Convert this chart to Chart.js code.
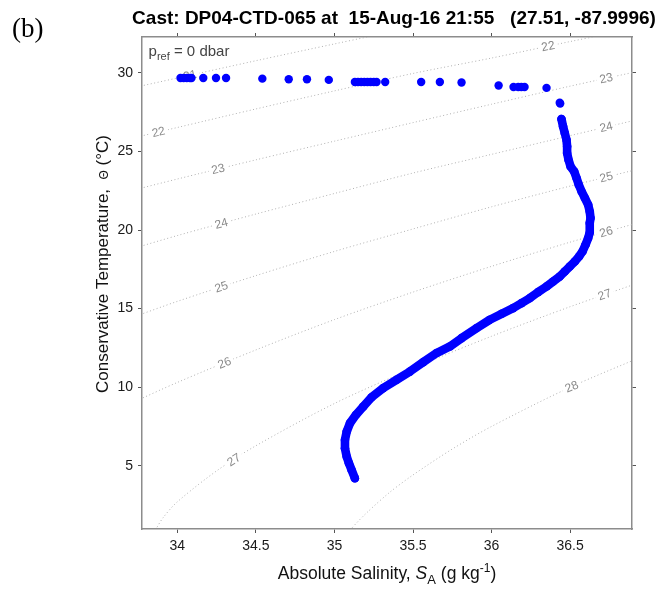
<!DOCTYPE html>
<html>
<head>
<meta charset="utf-8">
<script src="https://cdn.jsdelivr.net/npm/chart.js@4.4.1/dist/chart.umd.min.js"></script>
<style>
  html, body { margin: 0; padding: 0; background: #fff; }
</style>
</head>
<body>
<canvas id="tsChart" width="663" height="589"></canvas>
<script>
// Cast DP04-CTD-065: mixed layer samples (Absolute Salinity g/kg, Conservative Temperature degC)
const surfaceSA = [34.02, 34.04, 34.06, 34.08, 34.09, 34.165, 34.246, 34.31, 34.541, 34.709, 34.825, 34.964,
  35.13, 35.15, 35.17, 35.19, 35.21, 35.23, 35.25, 35.268, 35.323, 35.552, 35.671, 35.809,
  36.045, 36.14, 36.17, 36.19, 36.21, 36.35, 36.434, 36.437];
const surfaceCT = [29.68, 29.68, 29.68, 29.68, 29.68, 29.68, 29.68, 29.68, 29.64, 29.6, 29.6, 29.56,
  29.43, 29.43, 29.43, 29.43, 29.43, 29.43, 29.43, 29.43, 29.43, 29.43, 29.43, 29.39,
  29.2, 29.11, 29.11, 29.11, 29.11, 29.05, 28.1, 28.05];

// below the mixed layer the samples are packed tightly
const profileSA = [36.445, 36.455, 36.466, 36.477, 36.481, 36.481, 36.49, 36.503, 36.526, 36.541, 36.555, 36.573,
  36.594, 36.615, 36.625, 36.63, 36.625, 36.625, 36.615, 36.598, 36.579, 36.557, 36.53, 36.498,
  36.466, 36.434, 36.392, 36.35, 36.296, 36.244, 36.191, 36.137, 36.064, 35.989, 35.905, 35.809,
  35.735, 35.65, 35.565, 35.48, 35.396, 35.31, 35.237, 35.183, 35.137, 35.099, 35.078, 35.067,
  35.067, 35.078, 35.092, 35.109, 35.13];
const profileCT = [27.07, 26.6, 26.18, 25.75, 25.32, 24.9, 24.48, 24.05, 23.73, 23.31, 22.89, 22.46,
  22.04, 21.61, 21.18, 20.76, 20.45, 19.85, 19.49, 19.06, 18.64, 18.32, 18.0, 17.68,
  17.36, 17.04, 16.73, 16.41, 16.05, 15.67, 15.35, 15.03, 14.67, 14.29, 13.76, 13.12,
  12.59, 12.17, 11.59, 10.99, 10.47, 9.94, 9.36, 8.76, 8.24, 7.71, 7.17, 6.64,
  6.11, 5.58, 5.16, 4.73, 4.2];

// sigma0 isopycnals (p_ref = 0 dbar)
const sigmaLevels = [21, 22, 23, 24, 25, 26, 27, 28];
const isoSA = [
  [33.7, 34.0, 34.5, 35.0, 35.5],
  [33.7, 34.0, 34.5, 35.0, 35.5, 36.0, 36.5, 37.0],
  [33.7, 34.0, 34.5, 35.0, 35.5, 36.0, 36.5, 37.0],
  [33.7, 34.0, 34.5, 35.0, 35.5, 36.0, 36.5, 37.0],
  [33.7, 34.0, 34.5, 35.0, 35.5, 36.0, 36.5, 37.0],
  [33.7, 34.0, 34.5, 35.0, 35.5, 36.0, 36.5, 37.0],
  [33.84, 33.86, 33.91, 34.0, 34.25, 34.5, 35.0, 35.5, 36.0, 36.5, 37.0],
  [35.08, 35.1, 35.2, 35.35, 35.5, 35.75, 36.0, 36.5, 37.0]
];
const isoCT = [
  [29.02, 29.68, 30.78, 31.85, 32.9],
  [25.82, 26.53, 27.71, 28.86, 29.97, 30.95, 32.0, 33.0],
  [22.49, 23.25, 24.47, 25.66, 26.84, 28.01, 29.16, 30.25],
  [18.77, 19.65, 21.02, 22.33, 23.63, 24.82, 26.01, 27.2],
  [14.39, 15.46, 17.1, 18.64, 20.07, 21.48, 22.8, 24.04],
  [8.95, 10.3, 12.37, 14.3, 16.05, 17.69, 19.23, 20.65],
  [0.5, 0.9, 1.7, 2.7, 4.67, 6.27, 8.96, 11.2, 13.24, 15.12, 16.86],
  [0.5, 0.9, 1.95, 3.29, 4.41, 6.06, 7.5, 9.99, 12.12]
];
// each isopycnal label sits on its line at this salinity
const labelSigma = [21, 22, 22, 23, 23, 24, 24, 25, 25, 26, 26, 27, 27, 28];
const labelSA = [34.08, 33.88, 36.36, 34.26, 36.73, 34.28, 36.73, 34.28, 36.73, 34.3, 36.73, 34.36, 36.72, 36.51];

const xTicks = [34, 34.5, 35, 35.5, 36, 36.5];
const yTicks = [5, 10, 15, 20, 25, 30];
const xRange = [33.775, 36.894];
const yRange = [0.97, 32.29];

const SANS = '"Liberation Sans", Arial, Helvetica, sans-serif';
const castBlue = '#0000ff';

function toPoints(xs, ys) {
  return xs.map((x, i) => ({ x: x, y: ys[i] }));
}

const datasets = [
  {
    label: 'surface',
    data: toPoints(surfaceSA, surfaceCT),
    showLine: false,
    pointRadius: 4.2,
    pointBackgroundColor: castBlue,
    pointBorderWidth: 0,
    xAxisID: 'x', yAxisID: 'y'
  },
  {
    label: 'profile',
    data: toPoints(profileSA, profileCT),
    showLine: true,
    borderColor: castBlue,
    borderWidth: 8.6,
    borderCapStyle: 'round',
    borderJoinStyle: 'round',
    pointRadius: 4.3,
    pointBackgroundColor: castBlue,
    pointBorderWidth: 0,
    xAxisID: 'x', yAxisID: 'y'
  }
];
sigmaLevels.forEach((s, k) => {
  datasets.push({
    label: 'sigma ' + s,
    data: toPoints(isoSA[k], isoCT[k]),
    showLine: true,
    tension: 0.3,
    borderColor: '#b0b0b0',
    borderWidth: 1,
    borderDash: [1, 2.5],
    pointRadius: 0,
    xAxisID: 'x', yAxisID: 'y'
  });
});

// pixel position and slope of an isopycnal at a given salinity
function isoAt(chart, k, sa) {
  const xs = chart.scales.x, ys = chart.scales.y;
  const sx = isoSA[k], sy = isoCT[k];
  let i = 0;
  while (i < sx.length - 2 && sx[i + 1] < sa) i++;
  const t = (sa - sx[i]) / (sx[i + 1] - sx[i]);
  const x0 = xs.getPixelForValue(sx[i]), y0 = ys.getPixelForValue(sy[i]);
  const x1 = xs.getPixelForValue(sx[i + 1]), y1 = ys.getPixelForValue(sy[i + 1]);
  return { x: x0 + t * (x1 - x0), y: y0 + t * (y1 - y0), angle: Math.atan2(y1 - y0, x1 - x0) };
}

function drawIsoLabels(chart) {
  const { ctx, chartArea: a } = chart;
  ctx.save();
  ctx.beginPath();
  ctx.rect(a.left, a.top, a.right - a.left, a.bottom - a.top);
  ctx.clip();
  ctx.font = '12px ' + SANS;
  ctx.textAlign = 'center';
  ctx.textBaseline = 'middle';
  labelSigma.forEach((s, j) => {
    const k = sigmaLevels.indexOf(s);
    const p = isoAt(chart, k, labelSA[j]);
    const txt = String(s);
    const w = ctx.measureText(txt).width;
    ctx.save();
    ctx.translate(p.x, p.y);
    ctx.rotate(p.angle);
    ctx.fillStyle = '#ffffff';
    ctx.fillRect(-w / 2 - 3, -6, w + 6, 12);
    ctx.fillStyle = '#8a8a8a';
    ctx.fillText(txt, 0, 0.5);
    ctx.restore();
  });
  ctx.restore();
}

// draws a row of text runs (sub/superscripts) centred on x
function drawRuns(ctx, runs, x, y) {
  let total = 0;
  runs.forEach(r => { ctx.font = r.font; r.w = ctx.measureText(r.text).width; total += r.w; });
  let cx = x - total / 2;
  runs.forEach(r => {
    ctx.font = r.font;
    ctx.fillText(r.text, cx, y + (r.dy || 0));
    cx += r.w;
  });
}

const decorations = {
  id: 'decorations',
  beforeDatasetDraw(chart, args) {
    // labels go under the cast dots but over the isopycnals
    if (args.index === 1) drawIsoLabels(chart);
  },
  afterDraw(chart) {
    const { ctx, chartArea: a } = chart;
    ctx.save();
    ctx.fillStyle = '#000';
    ctx.textBaseline = 'alphabetic';
    ctx.textAlign = 'left';

    ctx.font = '27px "Liberation Serif", "Times New Roman", serif';
    ctx.fillText('(b)', 12, 37);

    ctx.font = 'bold 19px ' + SANS;
    ctx.textAlign = 'center';
    ctx.fillText('Cast: DP04-CTD-065 at  15-Aug-16 21:55   (27.51, -87.9996)', 394, 24);

    ctx.textAlign = 'left';
    ctx.fillStyle = '#444';
    drawRuns(ctx, [
      { text: 'p', font: '15px ' + SANS },
      { text: 'ref', font: '11px ' + SANS, dy: 4 },
      { text: ' = 0 dbar', font: '15px ' + SANS }
    ], a.left + 47, 56);

    ctx.fillStyle = '#111';
    drawRuns(ctx, [
      { text: 'Absolute Salinity, ', font: '17.5px ' + SANS },
      { text: 'S', font: 'italic 17.5px ' + SANS },
      { text: 'A', font: '13px ' + SANS, dy: 5 },
      { text: ' (g kg', font: '17.5px ' + SANS },
      { text: '-1', font: '12px ' + SANS, dy: -7 },
      { text: ')', font: '17.5px ' + SANS }
    ], (a.left + a.right) / 2, 579);

    ctx.save();
    ctx.translate(108, 264);
    ctx.rotate(-Math.PI / 2);
    drawRuns(ctx, [
      { text: 'Conservative Temperature,  ', font: '17px ' + SANS },
      { text: '\u0398', font: '12px ' + SANS },
      { text: ' (\u00B0C)', font: '17px ' + SANS }
    ], 0, 0);
    ctx.restore();
    ctx.restore();
  }
};

function axis(position, range, ticks, size, showLabels) {
  return {
    type: 'linear',
    position: position,
    min: range[0],
    max: range[1],
    grid: { drawOnChartArea: false, drawTicks: true, tickLength: 4, color: '#555', lineWidth: 1 },
    border: { display: true, color: '#8c8c8c', width: 1.5 },
    ticks: {
      display: showLabels,
      color: '#1a1a1a',
      font: { family: SANS, size: 14 },
      padding: 5,
      maxRotation: 0,
      autoSkip: false,
      callback: v => String(v)
    },
    afterBuildTicks: s => { s.ticks = ticks.map(v => ({ value: v })); },
    afterFit: s => {
      if (position === 'top' || position === 'bottom') s.height = size; else s.width = size;
    }
  };
}

new Chart(document.getElementById('tsChart'), {
  type: 'scatter',
  data: { datasets: datasets },
  options: {
    responsive: false,
    animation: false,
    devicePixelRatio: 1,
    layout: { padding: 0, autoPadding: false },
    plugins: { legend: { display: false }, tooltip: { enabled: false }, title: { display: false } },
    scales: {
      x: axis('bottom', xRange, xTicks, 60, true),
      xTop: axis('top', xRange, xTicks, 37, false),
      y: axis('left', yRange, yTicks, 142, true),
      yRight: axis('right', yRange, yTicks, 31, false)
    }
  },
  plugins: [decorations]
});
</script>
</body>
</html>
